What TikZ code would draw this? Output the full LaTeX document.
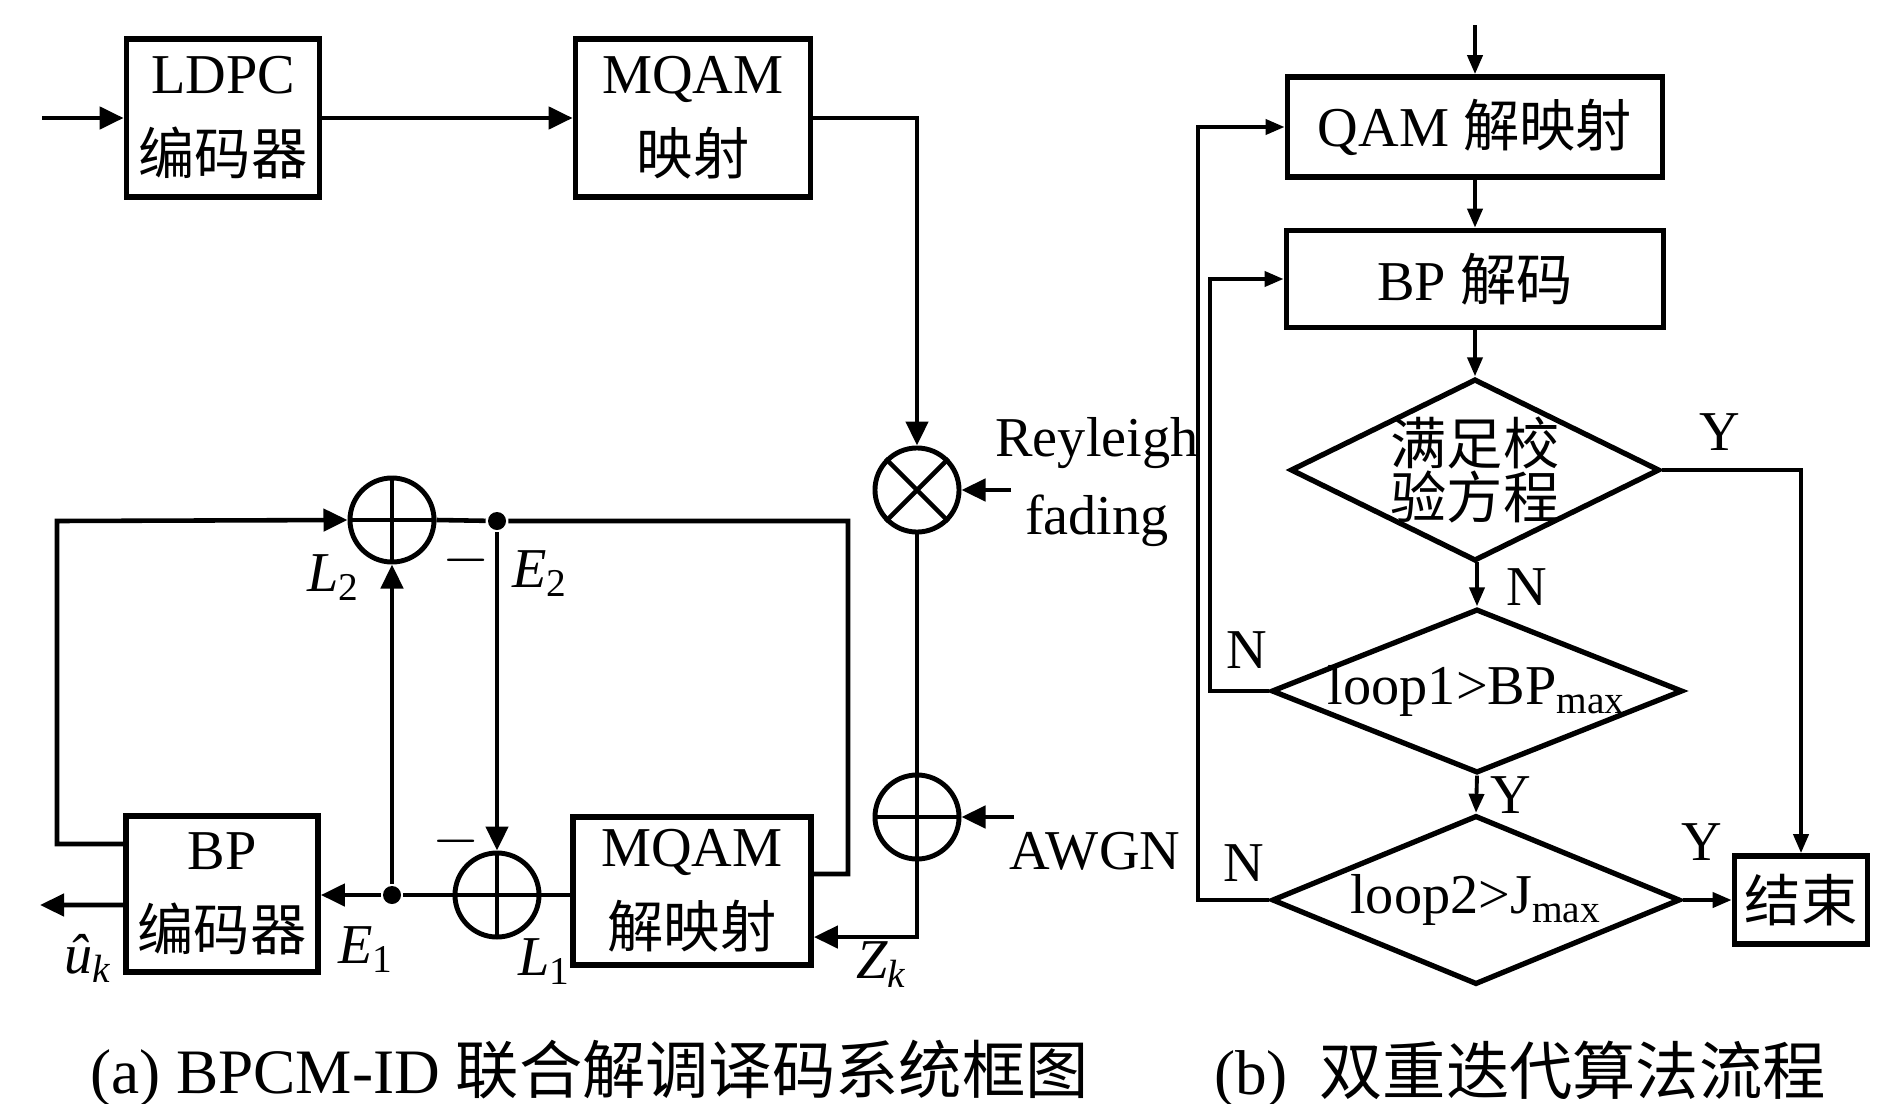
\documentclass[tikz,border=0pt]{standalone}
\usepackage{fontspec}
\setmainfont{Liberation Serif}
\newfontfamily\cjk{Noto Sans CJK SC}
\usetikzlibrary{arrows.meta, shapes.geometric, calc}

\begin{document}
\begin{tikzpicture}[x=0.01cm, y=-0.01cm,
    font=\fontsize{16pt}{23pt}\selectfont,
    line width=1.3pt,
    blk/.style={draw, line width=1.6pt, align=center, inner sep=0pt},
    sumc/.style={draw, circle, line width=1.4pt, minimum size=0.84cm, inner sep=0pt},
    dec/.style={draw, diamond, line width=1.5pt, inner sep=0pt},
    arr/.style={-{Triangle[length=2.4mm,width=2.2mm]}},
    arrs/.style={-{Triangle[length=1.9mm,width=1.5mm]}, line width=1.1pt},
    jn/.style={circle, fill, inner sep=0pt, minimum size=0.18cm}]
    \useasboundingbox (0,0) rectangle (1903,1103);

    % (a) transmitter
    \coordinate (src) at (42,118);
    \node[blk, minimum width=1.93cm, minimum height=1.58cm] (ldpc) at (223,118) {LDPC\\{\cjk 编码器}};
    \node[blk, minimum width=2.35cm, minimum height=1.58cm] (mqam) at (693,118) {MQAM\\{\cjk 映射}};
    \draw[arr] (src) -- (ldpc);
    \draw[arr] (ldpc) -- (mqam);

    % Channel
    \node[sumc] (mul) at (917,490) {};
    \draw (mul.north east) -- (mul.south west) (mul.north west) -- (mul.south east);
    \node[sumc] (awgn) at (917,817) {};
    \draw (awgn.north) -- (awgn.south) (awgn.west) -- (awgn.east);
    \draw[arr] (mqam.east) -| (mul.north);
    \coordinate (ray) at (1011,490);
    \draw[arr] (ray) -- (mul.east);
    \node[align=center, font=\fontsize{16pt}{22pt}\selectfont] (fad) at (1097,482) {Reyleigh\\fading};
    \coordinate (noise) at (1014,817);
    \draw[arr] (noise) -- (awgn.east);
    \node (awgnlbl) at (1095,851) {AWGN};
    \draw (mul.south) -- (awgn.north);

    % (a) receiver
    \node[blk, minimum width=2.38cm, minimum height=1.48cm] (demap) at (692,891) {MQAM\\{\cjk 解映射}};
    \node[blk, minimum width=1.92cm, minimum height=1.56cm] (bp) at (222,894) {BP\\{\cjk 编码器}};
    \node[sumc] (addt) at (392,520) {};
    \draw (addt.north) -- (addt.south) (addt.west) -- (addt.east);
    \node[sumc] (addb) at (497,895) {};
    \draw (addb.north) -- (addb.south) (addb.west) -- (addb.east);
    \node[jn] (jt) at (497,521) {};
    \node[jn] (jb) at (392,895) {};
    \coordinate (rt) at (848,521);
    \coordinate (lt) at (57,521);
    \coordinate (uk) at (40,905);

    \draw[arr] (awgn.south) |- ([yshift=-0.46cm]demap.east);
    \draw ([yshift=0.17cm]demap.east) -| (rt) -- (jt) -- (addt.east);
    \draw[arr] (jt) -- (addb.north);
    \draw (addb.east) -- (addb.east -| demap.west);
    \draw (addb.west) -- (jb);
    \draw[arr] (jb) -- (bp.east |- jb);
    \draw[arr] (jb) -- (addt.south);
    \draw[arr] ([yshift=-0.11cm]bp.west) -- (uk);
    \draw[arr] ([yshift=0.5cm]bp.west) -| (lt) -- (addt.west);

    % Signal labels
    \node (l2) at (334,578) {\textit{L}\textsubscript{2}};
    \node (m2) at (466,560) {$-$};
    \node (e2) at (540,574) {\textit{E}\textsubscript{2}};
    \node (m1) at (456,841) {$-$};
    \node (e1) at (366,950) {\textit{E}\textsubscript{1}};
    \node (l1) at (545,962) {\textit{L}\textsubscript{1}};
    \node (zk) at (882,965) {\textit{Z}\textsubscript{\textit{k}}};
    \node (uhat) at (88,958) {\textit{\^u}\textsubscript{\textit{k}}};

    % (b) flow chart
    \coordinate (start) at (1475,25);
    \coordinate (fbo) at (1198,0);
    \coordinate (fbi) at (1210,0);
    \node[blk, minimum width=3.75cm, minimum height=1.0cm] (qam) at (1475,127) {QAM {\cjk 解映射}};
    \node[blk, minimum width=3.77cm, minimum height=0.97cm] (bpd) at (1475,279) {BP {\cjk 解码}};
    \node[dec, minimum width=3.69cm, minimum height=1.82cm,
        label={[name=t1, align=center, font=\cjk\fontsize{16pt}{15.5pt}\selectfont]center:满足校\\验方程}] (d1) at (1475,470) {};
    \node[dec, minimum width=4.11cm, minimum height=1.64cm,
        label={[name=t2]center:loop1>BP\textsubscript{max}}] (d2) at (1477,691) {};
    \node[dec, minimum width=4.08cm, minimum height=1.69cm,
        label={[name=t3]center:loop2>J\textsubscript{max}}] (d3) at (1476,900) {};
    \node[blk, minimum width=1.33cm, minimum height=0.88cm] (stop) at (1801,900) {{\cjk 结束}};

    \draw[arrs] (start) -- (qam);
    \draw[arrs] (qam) -- (bpd);
    \draw[arrs] (bpd) -- (d1);
    \draw[arrs] (d1.south) -- (d1.south -| d2.north) -- (d2.north);
    \draw[arrs] (d2.south) -- (d3.north);
    \draw[arrs] (d3.east) -- (d3.east -| stop.west);
    \draw[arrs] (d1.east) -| (stop.north);
    \draw[arrs] (d2.west) -- (d2.west -| fbi) |- (bpd.west);
    \draw[arrs] (d3.west) -- (d3.west -| fbo) |- (qam.west);

    \node (y1) at (1720,432) {Y};
    \node (n1) at (1527,587) {N};
    \node (n2) at (1247,650) {N};
    \node (y2) at (1511,795) {Y};
    \node (n3) at (1244,863) {N};
    \node (y3) at (1702,842) {Y};

    % Captions
    \node[anchor=west, font=\fontsize{18pt}{20pt}\selectfont] (capa) at (76,1074) {(a) BPCM-ID {\cjk 联合解调译码系统框图}};
    \node[anchor=west, font=\fontsize{18pt}{20pt}\selectfont] (capb) at (1200,1074) {(b)\ \ {\cjk 双重迭代算法流程}};
\end{tikzpicture}
\end{document}
